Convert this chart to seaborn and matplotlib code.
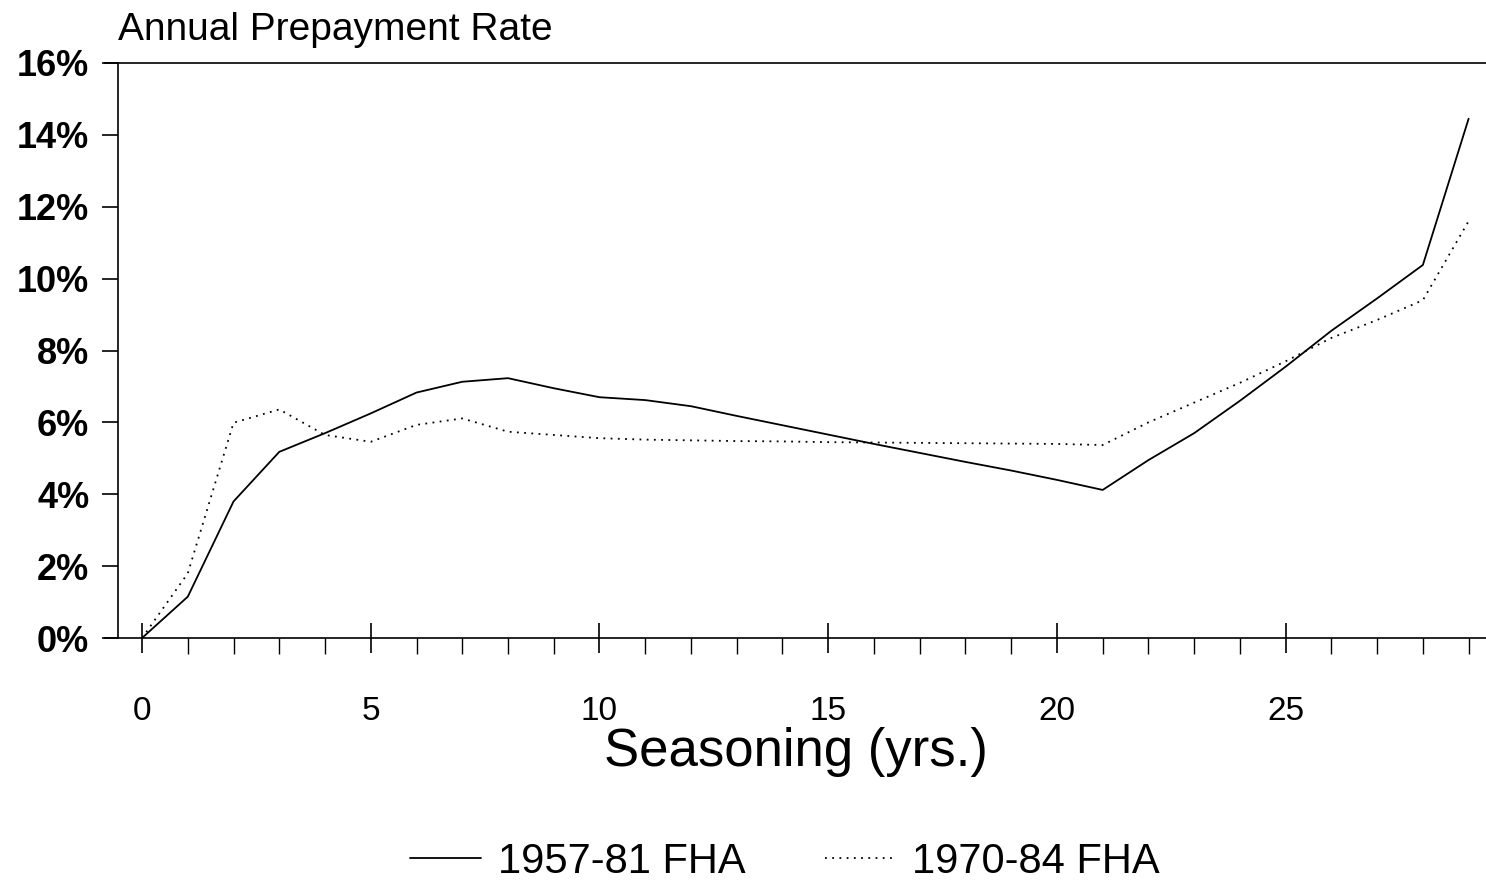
import seaborn as sns
import matplotlib.pyplot as plt
import pandas as pd
from matplotlib.ticker import MultipleLocator, FixedLocator
from matplotlib.lines import Line2D

# seasoning years
years = list(range(30))

# 1957-81 FHA (solid)
fha_5781 = [0.0, 1.15, 3.8, 5.18, 5.7, 6.25, 6.83, 7.13, 7.23, 6.95, 6.7,
            6.62, 6.45, 6.18, 5.92, 5.66, 5.4, 5.15, 4.9, 4.66, 4.4,
            4.12, 4.95, 5.7, 6.6, 7.55, 8.55, 9.45, 10.38, 14.45]

# 1970-84 FHA (dotted)
fha_7084 = [0.0, 1.8, 5.99, 6.36, 5.65, 5.46, 5.93, 6.11, 5.74, 5.65, 5.56,
            5.52, 5.5, 5.48, 5.47, 5.45, 5.44, 5.43, 5.42, 5.41, 5.4,
            5.37, 6.0, 6.55, 7.1, 7.7, 8.35, 8.85, 9.4, 11.6]

labels = ['1957-81 FHA', '1970-84 FHA']

df = pd.DataFrame({
    'Seasoning': years * 2,
    'Rate': fha_5781 + fha_7084,
    'Serie': [labels[0]] * len(years) + [labels[1]] * len(years),
})

sns.set_style('white')
plt.rcParams['font.family'] = ['Liberation Sans', 'DejaVu Sans']
for k in ['text.color', 'axes.labelcolor', 'xtick.color', 'ytick.color']:
    plt.rcParams[k] = 'black'

fig = plt.figure(figsize=(14.86, 8.84), dpi=100)
ax = fig.add_axes([105 / 1486, 1 - 638 / 884, 1 - 105 / 1486, (638 - 63) / 884])

dots = (1, 3)
sns.lineplot(data=df, x='Seasoning', y='Rate', hue='Serie', style='Serie',
             palette=['black', 'black'], dashes={labels[0]: '', labels[1]: dots},
             linewidth=1.3, ax=ax, legend=False)

ax.set_xlim(-0.81, 29.38)
ax.set_ylim(0, 16)

# axes look
ax.spines['right'].set_visible(False)
ax.spines['left'].set_position(('data', -0.53))
for s in ['left', 'bottom', 'top']:
    ax.spines[s].set_linewidth(1.2)
    ax.spines[s].set_color('black')

ax.set_yticks(range(0, 17, 2))
ax.set_yticklabels([f'{v}%' for v in range(0, 17, 2)], fontsize=26, fontweight='bold')
ax.tick_params(axis='y', direction='out', length=11.5, width=1.2, pad=9, left=True)

ax.xaxis.set_major_locator(MultipleLocator(5))
ax.xaxis.set_minor_locator(FixedLocator([i for i in range(30) if i % 5 != 0]))
ax.set_xticks(range(0, 26, 5))
ax.set_xticklabels([str(v) for v in range(0, 26, 5)], fontsize=24)
ax.tick_params(axis='x', which='major', direction='inout', length=22, width=1.2, pad=31, bottom=True)
ax.tick_params(axis='x', which='minor', direction='out', length=11.5, width=1.0, bottom=True)

ax.set_xlabel('Seasoning (yrs.)', fontsize=38, labelpad=0)
ax.set_ylabel('')

fig.text(118 / 1486, 1 - 40 / 884, 'Annual Prepayment Rate', fontsize=28,
         ha='left', va='baseline')

# legende en bas
handles = [Line2D([], [], color='black', linewidth=1.3),
           Line2D([], [], color='black', linewidth=1.3, linestyle=(0, dots))]
fig.legend(handles, labels, loc='center', bbox_to_anchor=(785 / 1486, 1 - 862 / 884),
           ncol=2, frameon=False, fontsize=30, handlelength=1.7,
           handletextpad=0.4, columnspacing=1.9)

plt.savefig('out.png', dpi=100)
